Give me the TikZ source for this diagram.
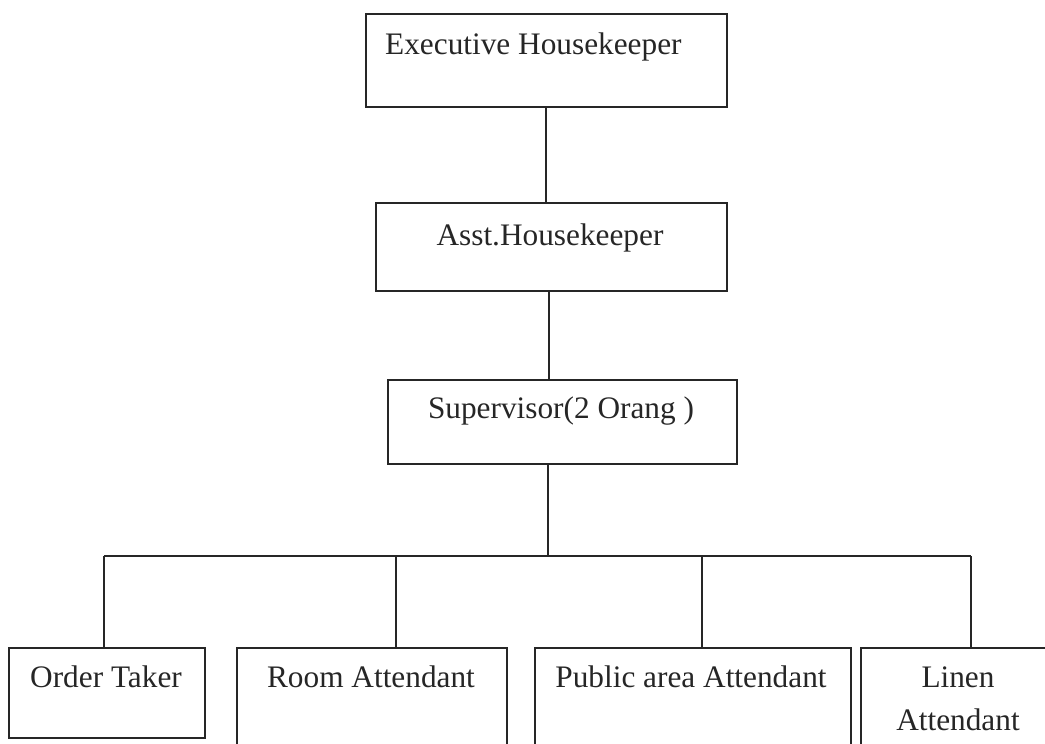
\documentclass[tikz,border=0pt]{standalone}
\usepackage{fontspec}
\setmainfont{Liberation Serif}
\begin{document}
\begin{tikzpicture}[x=1pt,y=-1pt,
  box/.style={draw=black!85, line width=1.6pt, inner sep=0pt, outer sep=0pt, anchor=north west},
  lbl/.style={inner sep=0pt, font=\fontsize{31.3}{43}\selectfont, text=black!85},
  conn/.style={draw=black!85, line width=1.5pt}]
\useasboundingbox (0,0) rectangle (1045,744);
\clip (-1,-1) rectangle (1045,744);
% boxes
\node[box, minimum width=361pt, minimum height=93pt] (exec) at (366,14) {};
\node[box, minimum width=351pt, minimum height=88pt] (asst) at (376,203) {};
\node[box, minimum width=349pt, minimum height=84pt] (sup) at (388,380) {};
\node[box, minimum width=196pt, minimum height=90pt] (order) at (9,648) {};
\node[box, minimum width=270pt, minimum height=120pt] (room) at (237,648) {};
\node[box, minimum width=316pt, minimum height=120pt] (public) at (535,648) {};
\node[box, minimum width=300pt, minimum height=120pt] (linen) at (861,648) {};
% texts
\node[lbl, anchor=base west] (texec) at (385,54) {Executive Housekeeper};
\node[lbl, anchor=base] (tasst) at (550,245) {Asst.Housekeeper};
\node[lbl, anchor=base] (tsup) at (561,418) {Supervisor(2 Orang )};
\node[lbl, anchor=base] (torder) at (106,687) {Order Taker};
\node[lbl, anchor=base] (troom) at (371,687) {Room Attendant};
\node[lbl, anchor=base] (tpublic) at (691,687) {Public area Attendant};
\node[lbl, anchor=base, align=center] (tlinen) at (958,730) {Linen\\Attendant};
% connectors
\coordinate (c1) at (546,0);
\coordinate (c2) at (549,0);
\coordinate (j) at (548,556);
\coordinate (d1) at (104,556);
\coordinate (d2) at (396,556);
\coordinate (d3) at (702,556);
\coordinate (d4) at (971,556);
\draw[conn] (exec.south -| c1) -- (asst.north -| c1);
\draw[conn] (asst.south -| c2) -- (sup.north -| c2);
\draw[conn] (sup.south -| j) -- (j);
\draw[conn] (d1) -- (d4);
\draw[conn] (d1) -- (order.north -| d1);
\draw[conn] (d2) -- (room.north -| d2);
\draw[conn] (d3) -- (public.north -| d3);
\draw[conn] (d4) -- (linen.north -| d4);
\end{tikzpicture}
\end{document}
